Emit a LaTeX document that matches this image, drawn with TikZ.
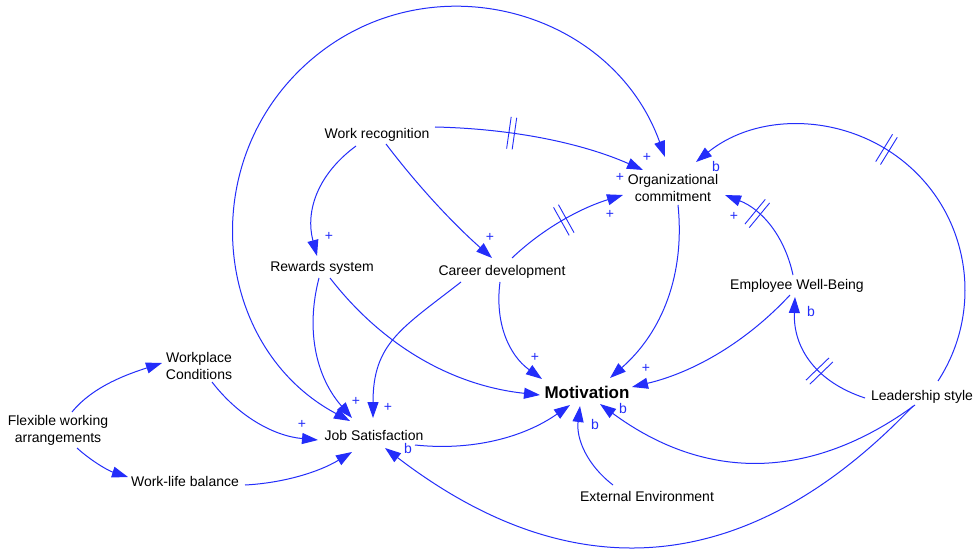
\documentclass[tikz,border=0pt]{standalone}
\usepackage{fontspec}
\setmainfont{Liberation Sans}
\usetikzlibrary{arrows.meta,decorations.markings}
\definecolor{lnk}{RGB}{35,45,250}
\begin{document}
\begin{tikzpicture}[x=1pt,y=-1pt,
  var/.style={inner sep=0pt, font=\fontsize{14}{17}\selectfont, align=center, text=black},
  lk/.style={draw=lnk, line width=1pt, -{Triangle[length=16pt,width=11pt]}},
  lkb/.style={draw=lnk, line width=1pt, {Triangle[length=16pt,width=11pt]}-{Triangle[length=16pt,width=11pt]}},
  pol/.style={text=lnk, font=\fontsize{14}{16}\selectfont, inner sep=0pt},
  delaymark/.style={postaction={decorate, decoration={markings, mark=at position #1 with {\draw[draw=lnk,line width=0.9pt,-] (-2.8pt,-16pt)--(-2.8pt,16pt) (2.8pt,-16pt)--(2.8pt,16pt);}}}}
]
\path[use as bounding box, fill=white] (0,0) rectangle (980,553);

% variables
\node[var] (WR) at (377,135) {Work recognition};
\node[var] (OC) at (673,188) {Organizational\\commitment};
\node[var] (RS) at (322,268) {Rewards system};
\node[var] (CD) at (502,272) {Career development};
\node[var] (EWB) at (797,286) {Employee Well-Being};
\node[var] (WC) at (199,366) {Workplace\\Conditions};
\node[var] (FWA) at (58,430) {Flexible working\\arrangements};
\node[var] (JS) at (374,435) {Job Satisfaction};
\node[var, font=\bfseries\fontsize{17}{20}\selectfont] (MOT) at (587,392) {Motivation};
\node[var] (LS) at (922,397) {Leadership style};
\node[var] (WLB) at (185,481) {Work-life balance};
\node[var] (EE) at (647,496) {External Environment};

% links
\draw[lk] ([shift={(-21,11)}]WR.center) .. controls (318,174) and (305,210.7) .. ([shift={(-5,-12)}]RS.center);
\draw[lk] ([shift={(9,9)}]WR.center) .. controls (417.3,185.3) and (452.7,223.3) .. ([shift={(-10,-14)}]CD.center);
\draw[lk, delaymark=0.36] ([shift={(58,-8)}]WR.center) .. controls (512.3,128.7) and (581.7,143) .. ([shift={(-30,-18)}]OC.center);
\draw[lkb] ([shift={(-24,-14)}]JS.center) .. controls (213,348) and (193,160) .. (312,59) .. controls (430,-41) and (612,9) .. ([shift={(-8,-31)}]OC.center);
\draw[lk, delaymark=0.5] ([shift={(10,-14)}]CD.center) .. controls (541.7,229.7) and (578.7,208.7) .. ([shift={(-50,7)}]OC.center);
\draw[lk] ([shift={(5,17)}]OC.center) .. controls (685.1,274.3) and (662.4,332) .. ([shift={(23,-14)}]MOT.center);
\draw[lk, delaymark=0.565] ([shift={(16,-16)}]LS.center) .. controls (982.5,312.6) and (971,222.1) .. (910.7,167.6) .. controls (850.4,113.1) and (759.4,110.6) .. ([shift={(23,-26)}]OC.center);
\draw[lk, delaymark=0.66] ([shift={(-4,-11)}]EWB.center) .. controls (784.6,236.2) and (762.1,209.5) .. ([shift={(52,7)}]OC.center);
\draw[lk] ([shift={(-7,9)}]EWB.center) .. controls (746.7,341.7) and (694,372.3) .. ([shift={(45,-5)}]MOT.center);
\draw[lk, delaymark=0.4] ([shift={(-57,1)}]LS.center) .. controls (816.3,382) and (793,348.3) .. ([shift={(-2,11)}]EWB.center);
\draw[lk] ([shift={(-7,8)}]LS.center) .. controls (810,481.7) and (705,481.3) .. ([shift={(13,12)}]MOT.center);
\draw[lk] ([shift={(-9,9)}]LS.center) .. controls (749,578) and (573,592) .. ([shift={(11,13)}]JS.center);
\draw[lk] ([shift={(-34,-11)}]EE.center) .. controls (587,465) and (576,438.7) .. ([shift={(-7,14)}]MOT.center);
\draw[lk] ([shift={(-2,10)}]CD.center) .. controls (494.7,322.7) and (508.7,355) .. ([shift={(-45,-13)}]MOT.center);
\draw[lk] ([shift={(-41,10)}]CD.center) .. controls (401.9,328.2) and (373,343) .. ([shift={(-1,-17)}]JS.center);
\draw[lk] ([shift={(8,10)}]RS.center) .. controls (383.3,346.7) and (453.3,385.7) .. ([shift={(-47,3)}]MOT.center);
\draw[lk] ([shift={(-3,10)}]RS.center) .. controls (305.3,330.7) and (316.3,377.3) .. ([shift={(-22,-17)}]JS.center);
\draw[lk] ([shift={(41,10)}]JS.center) .. controls (471.7,451) and (523.3,437.7) .. ([shift={(-17,13)}]MOT.center);
\draw[lk] ([shift={(13,16)}]WC.center) .. controls (238.7,416.7) and (274,436) .. ([shift={(-56,5)}]JS.center);
\draw[lk] ([shift={(14,-18)}]FWA.center) .. controls (93.4,385.6) and (129.7,373.5) .. ([shift={(-37,-3)}]WC.center);
\draw[lk] ([shift={(19,18)}]FWA.center) .. controls (91.3,461) and (108.3,470.7) .. ([shift={(-57,-4)}]WLB.center);
\draw[lk] ([shift={(60,4)}]WLB.center) .. controls (283.5,483) and (319.1,472) .. ([shift={(-22,17)}]JS.center);

% polarities
\node[pol] (p1) at (329,236) {+};
\node[pol] (p2) at (490,237) {+};
\node[pol] (p3) at (647,157) {+};
\node[pol] (p4) at (620,177) {+};
\node[pol] (p5) at (610,214) {+};
\node[pol] (p6) at (734,216) {+};
\node[pol] (p7) at (535,357) {+};
\node[pol] (p8) at (646,368) {+};
\node[pol] (p9) at (356,401) {+};
\node[pol] (p10) at (388,407) {+};
\node[pol] (p11) at (302,424) {+};
\node[pol] (b1) at (716,166) {b};
\node[pol] (b2) at (623,408) {b};
\node[pol] (b3) at (595,424) {b};
\node[pol] (b4) at (811,311) {b};
\node[pol] (b5) at (408,448) {b};
\end{tikzpicture}
\end{document}
